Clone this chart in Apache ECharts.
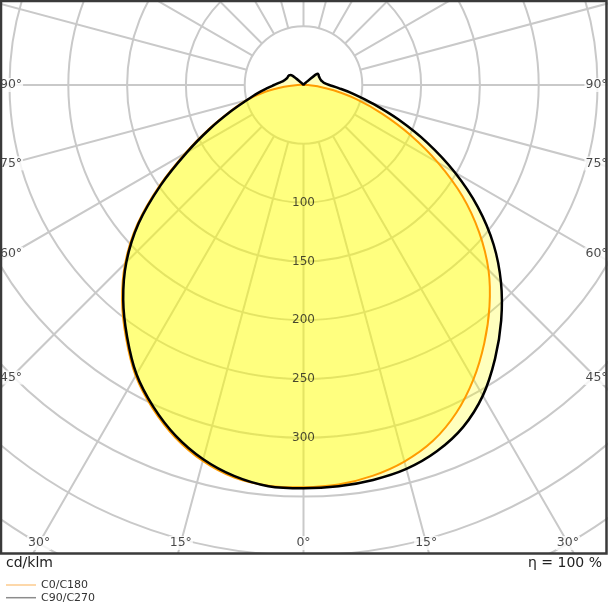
<!DOCTYPE html>
<html><head><meta charset="utf-8">
<script src="https://cdn.jsdelivr.net/npm/echarts@6/dist/echarts.min.js"></script>
<style>html,body{margin:0;padding:0;background:#fff}#c{width:608px;height:608px}</style>
</head><body><div id="c"></div>
<script>
// ---- data (cd/klm), gamma from nadir in 5 degree steps ----
const gammas = [0,5,10,15,20,25,30,35,40,45,50,55,60,65,70,75,80,85,90,95,100,105,110,115,120,125,130,135,140,145,150,155,160,165,170,175,180];
const c0   = [342,341,337.5,331.5,322,307.5,289,268,246,222.5,195,165,132,100,71,46.5,26,12,4,1,0.5,0.5,0.5,0.5,0.5,0.5,0.5,0.5,0.5,0.5,0.5,0.5,0.5,0.5,0.5,0.5,0.5];
const c180 = [342,342,339,331,319,303.5,285.5,263,240,214.5,184.5,149.5,116,89,67,50,33,16.5,5,1,0.5,0.5,0.5,0.5,0.5,0.5,0.5,0.5,0.5,0.5,0.5,0.5,0.5,0.5,0.5,0.5,0.5];
const c90  = [343,342.5,341,338,331.5,321,305,284,261.5,237.5,211,181,148.5,116,86,61,43,30,22,18,16.5,15.5,15,15,15,15.5,14,3,1,0.5,0.5,0.5,0.5,0.5,0.5,0.5,0.5];
const c270 = [343,342.5,337.8,329.5,317.5,302,284,261.5,238.5,213,183,148,114.5,87.5,66,50,39.5,31,25,21,18,16.5,15.5,15,15,14.5,12,3,1,0.5,0.5,0.5,0.5,0.5,0.5,0.5,0.5];
const seriesNames = ['C0/C180','C90/C270'];
const radiusTicks = [100,150,200,250,300];
const sideAngleTicks = [90,75,60,45];
const bottomAngleTicks = [30,15,0];
const unitLabel = 'cd/klm';
const effLabel = 'η = 100 %';

// ---- layout / style ----
const CX = 303.5, CY = 85, RMAX = 500, KPX = 1.176;
const R_PX = RMAX * KPX;
const FONT = 'DejaVu Sans';
const GRID = '#c9c9c9';
const ORANGE = '#ff9c00';
const FRAME = {x0: 1, y0: 1, x1: 606.5, y1: 553.5};
const SIDE_LABEL_X = 11, BOTTOM_LABEL_Y = 543;

// closed curve: right half gamma 0..180, left half gamma 175..5 (angle value 360-gamma)
function buildCurve(right, left) {
  const pts = gammas.map((g, i) => [right[i], g]);
  for (let i = gammas.length - 2; i >= 1; i--) pts.push([left[i], 360 - gammas[i]]);
  return pts;
}
const curveC0 = buildCurve(c0, c180);
const curveC90 = buildCurve(c90, c270);
const rad = d => d * Math.PI / 180;

// closed Catmull-Rom rendering of the projected points (render-time smoothing only)
function closedSplinePath(p) {
  const n = p.length;
  const f = v => v.toFixed(2);
  let d = 'M' + f(p[0][0]) + ' ' + f(p[0][1]);
  for (let i = 0; i < n; i++) {
    const p0 = p[(i - 1 + n) % n], p1 = p[i], p2 = p[(i + 1) % n], p3 = p[(i + 2) % n];
    const c1x = p1[0] + (p2[0] - p0[0]) / 6, c1y = p1[1] + (p2[1] - p0[1]) / 6;
    const c2x = p2[0] - (p3[0] - p1[0]) / 6, c2y = p2[1] - (p3[1] - p1[1]) / 6;
    d += 'C' + f(c1x) + ' ' + f(c1y) + ' ' + f(c2x) + ' ' + f(c2y) + ' ' + f(p2[0]) + ' ' + f(p2[1]);
  }
  return d + 'Z';
}

const angleLabelData = [];
sideAngleTicks.forEach(a => {
  const rl = (CX - SIDE_LABEL_X) / Math.sin(rad(a)) / KPX;
  const rr = ((FRAME.x1 - SIDE_LABEL_X + 1) - CX) / Math.sin(rad(a)) / KPX;
  angleLabelData.push({value: [rl, 360 - a], name: a + '°'});
  angleLabelData.push({value: [rr, a], name: a + '°'});
});
bottomAngleTicks.forEach(a => {
  const r = (BOTTOM_LABEL_Y - CY) / Math.cos(rad(a)) / KPX;
  if (a !== 0) angleLabelData.push({value: [r, 360 - a], name: a + '°'});
  angleLabelData.push({value: [r, a], name: a + '°'});
});

function curveSeries(name, curve, style, z) {
  return {
    name, type: 'custom', coordinateSystem: 'polar', polarIndex: 0, z, silent: true,
    data: curve,
    itemStyle: {color: style.stroke && style.stroke !== 'none' ? style.stroke : '#ff0'},
    renderItem: function (params, api) {
      if (params.dataIndex !== 0) return null;
      const points = curve.map(d => api.coord(d));
      return {type: 'path', shape: {pathData: closedSplinePath(points)}, style: style, silent: true};
    }
  };
}

const chart = echarts.init(document.getElementById('c'), null, {renderer: 'canvas'});
const option = {
  animation: false,
  textStyle: {fontFamily: FONT},
  polar: [
    {center: [CX, CY], radius: R_PX},
    {center: [CX, CY], radius: [50 * KPX, R_PX]}
  ],
  angleAxis: [
    {polarIndex: 0, type: 'value', min: 0, max: 360, startAngle: 270, clockwise: false, show: false, z: 0},
    {polarIndex: 1, type: 'value', min: 0, max: 360, interval: 15, startAngle: 270, clockwise: false, z: 0,
     axisLine: {show: false}, axisTick: {show: false}, axisLabel: {show: false},
     splitLine: {show: true, lineStyle: {color: GRID, width: 2}}}
  ],
  radiusAxis: [
    {polarIndex: 0, type: 'value', min: 0, max: RMAX, interval: 50, z: 0,
     axisLine: {show: false}, axisTick: {show: false}, axisLabel: {show: false},
     splitLine: {show: true, lineStyle: {color: GRID, width: 2}}},
    {polarIndex: 1, type: 'value', min: 0, max: RMAX, show: false}
  ],
  legend: {
    orient: 'vertical', left: 6, top: 579, padding: 0, itemGap: 0.7,
    itemWidth: 30, itemHeight: 1.5, icon: 'rect', selectedMode: false,
    textStyle: {fontFamily: FONT, fontSize: 11, color: '#333', lineHeight: 12},
    data: [
      {name: seriesNames[0], itemStyle: {color: '#fccb8e', borderWidth: 0}},
      {name: seriesNames[1], itemStyle: {color: '#8c8c8c', borderWidth: 0}}
    ]
  },
  title: [
    {text: unitLabel, left: 6, top: 556, padding: 0,
     textStyle: {fontFamily: FONT, fontSize: 14, fontWeight: 'normal', color: '#222'}},
    {text: effLabel, right: 6, top: 556, padding: 0,
     textStyle: {fontFamily: FONT, fontSize: 14, fontWeight: 'normal', color: '#222'}}
  ],
  graphic: [
    {type: 'rect', z: 1, silent: true, shape: {x: 0, y: FRAME.y1, width: 608, height: 608 - FRAME.y1},
     style: {fill: '#fff'}},
    {type: 'rect', z: 20, silent: true,
     shape: {x: FRAME.x0, y: FRAME.y0, width: FRAME.x1 - FRAME.x0, height: FRAME.y1 - FRAME.y0},
     style: {fill: 'none', stroke: '#3a3a3a', lineWidth: 2.5}}
  ],
  series: [
    curveSeries('fill0', curveC0, {fill: 'rgba(255,255,0,0.33)', stroke: 'none'}, 2),
    curveSeries('fill1', curveC90, {fill: 'rgba(255,255,0,0.26)', stroke: 'none'}, 2),
    curveSeries(seriesNames[0], curveC0, {fill: 'none', stroke: ORANGE, lineWidth: 2, lineJoin: 'round'}, 3),
    curveSeries(seriesNames[1], curveC90, {fill: 'none', stroke: '#000', lineWidth: 2.5, lineJoin: 'round'}, 4),
    {name: 'rlabels', type: 'scatter', coordinateSystem: 'polar', polarIndex: 0, silent: true, z: 10,
     symbolSize: 1, itemStyle: {color: 'rgba(0,0,0,0)'},
     data: radiusTicks.map(v => [v, 0]),
     label: {show: true, position: 'inside', formatter: p => String(p.value[0]),
             fontFamily: FONT, fontSize: 12, color: '#1a1a1a'}},
    {name: 'alabels', type: 'scatter', coordinateSystem: 'polar', polarIndex: 0, silent: true, z: 10,
     symbolSize: 1, itemStyle: {color: 'rgba(0,0,0,0)'},
     data: angleLabelData,
     label: {show: true, position: 'inside', formatter: '{b}', backgroundColor: '#fff', padding: [1, 1, 0, 1],
             fontFamily: FONT, fontSize: 12.5, color: '#1a1a1a'}}
  ]
};
chart.setOption(option);
</script></body></html>
